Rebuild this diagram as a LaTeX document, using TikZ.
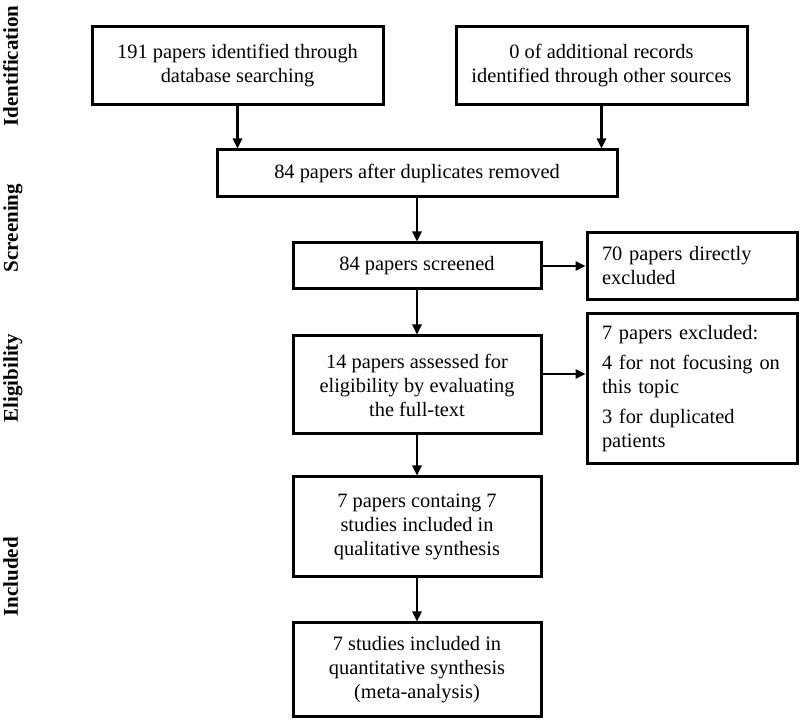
\documentclass[tikz,border=0pt]{standalone}
\usepackage{fontspec}
\setmainfont{Liberation Serif}
\usetikzlibrary{shapes,arrows,arrows.meta}
\tikzstyle{block} = [rectangle, draw, line width=1.5pt, align=center,
    inner sep=0pt, font=\fontsize{10.2}{12}\selectfont]
\tikzstyle{sidebox} = [rectangle, draw, line width=1.5pt, align=left,
    text width=90pt, inner xsep=7.5pt, inner ysep=0pt, font=\fontsize{10.2}{12}\selectfont]
\tikzstyle{phase} = [rotate=90, anchor=base, font=\fontsize{10.5}{12}\selectfont\bfseries]
\tikzstyle{line} = [draw, line width=1.1pt, -{Triangle[length=5pt,width=4.6pt]}]

\begin{document}
\begin{tikzpicture}[x=0.5pt, y=-0.5pt]
    \useasboundingbox (0,0) rectangle (800,721);
    % Place nodes
    \node [block, minimum width=145.5pt, minimum height=39pt] (records) at (237.5,66)
        {191 papers identified through\\database searching};
    \node [block, minimum width=145.5pt, minimum height=39pt] (other) at (601.5,66)
        {0 of additional records\\identified through other sources};
    \node [block, minimum width=200pt, minimum height=23.5pt] (dupl) at (417,173.5)
        {84 papers after duplicates removed};
    \node [block, minimum width=124pt, minimum height=23pt, below of=dupl, node distance=46.25pt] (screen)
        {84 papers screened};
    \node [sidebox, minimum height=33.5pt, right of=screen, node distance=137.5pt] (excl)
        {70 papers directly\\excluded};
    \node [block, minimum width=124pt, minimum height=49pt, below of=screen, node distance=59.5pt] (elig)
        {14 papers assessed for\\eligibility by evaluating\\the full-text};
    \node [sidebox, minimum height=75pt, right of=elig, node distance=137.5pt, yshift=-2pt] (fulltext)
        {7 papers excluded:\\[3pt]4 for not focusing on\\this topic\\[3pt]3 for duplicated\\patients};
    \node [block, minimum width=124pt, minimum height=50pt, below of=elig, node distance=71pt] (qual)
        {7 papers containg 7\\studies included in\\qualitative synthesis};
    \node [block, minimum width=124pt, minimum height=47pt, below of=qual, node distance=71.5pt] (quant)
        {7 studies included in\\quantitative synthesis\\(meta-analysis)};
    % Phase labels
    \node [phase] (ident) at (18,66) {Identification};
    \node [phase] (scr) at (18,228) {Screening};
    \node [phase] (eli) at (18,378) {Eligibility};
    \node [phase] (incl) at (18,577) {Included};
    % Draw edges
    \path [line] (records) -- (records |- dupl.north);
    \path [line] (other) -- (other |- dupl.north);
    \path [line] (dupl) -- (screen);
    \path [line] (screen) -- (excl);
    \path [line] (screen) -- (elig);
    \path [line] ([yshift=5.5pt]elig.east) -- ([yshift=5.5pt]elig.east -| fulltext.west);
    \path [line] (elig) -- (qual);
    \path [line] (qual) -- (quant);
\end{tikzpicture}
\end{document}
